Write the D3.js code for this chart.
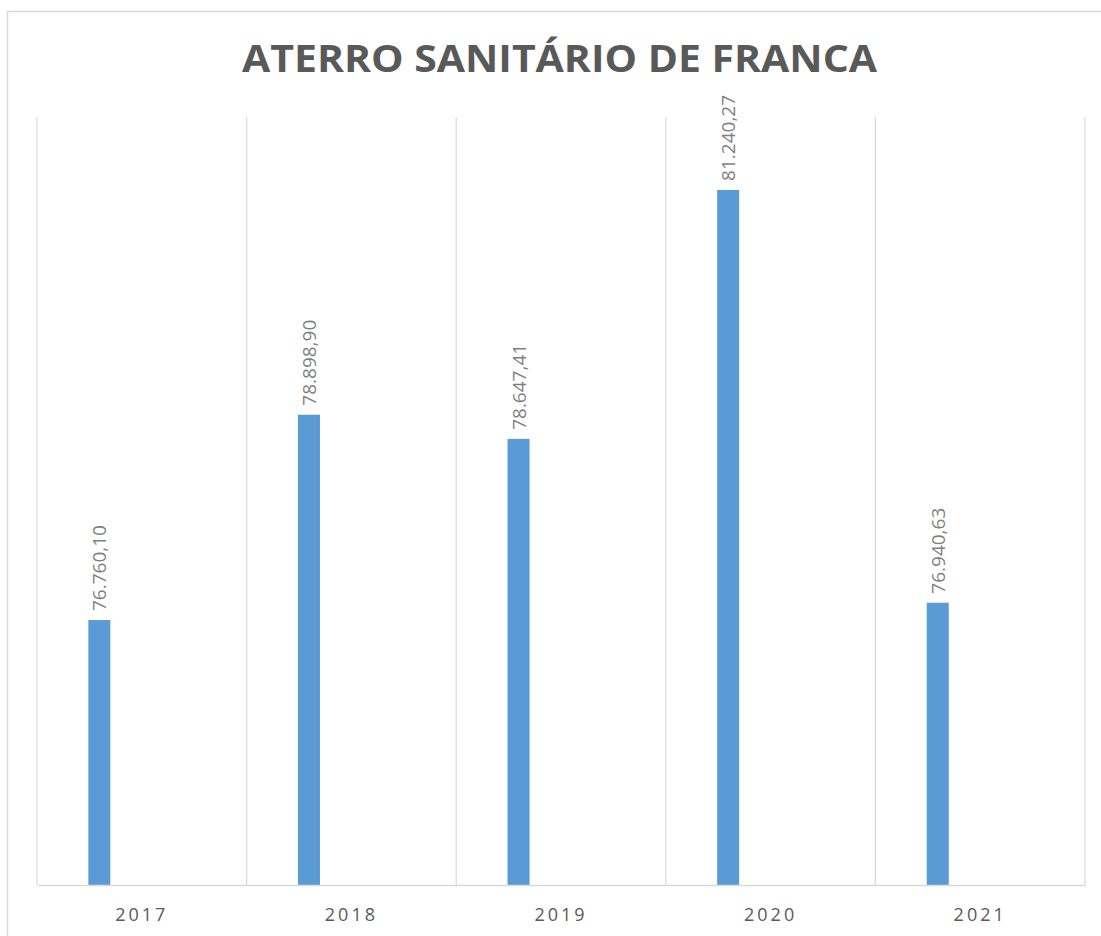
<!DOCTYPE html>
<html>
<head>
<meta charset="utf-8">
<script src="https://cdn.jsdelivr.net/npm/d3@7"></script>
<style>
  body { margin: 0; background: #fff; }
  svg { display: block; }
</style>
</head>
<body>
<svg id="chart" width="1101" height="936"></svg>
<script>
// chart data
var years = ['2017', '2018', '2019', '2020', '2021'];
var tonnes = [76760.10, 78898.90, 78647.41, 81240.27, 76940.63];
var labels = ['76.760,10', '78.898,90', '78.647,41', '81.240,27', '76.940,63'];
var yDomain = [74000, 82000];
var title = 'ATERRO SANITÁRIO DE FRANCA';

var svg = d3.select('#chart');
var plot = {left: 37, right: 1085, top: 117, bottom: 885};

// outer chart border
svg.append('rect')
    .attr('x', 7.5).attr('y', 11.5)
    .attr('width', 1110).attr('height', 940)
    .attr('fill', 'none')
    .attr('stroke', '#d9d9d9')
    .attr('stroke-width', 1.5);

var x = d3.scaleBand().domain(years).range([plot.left, plot.right]);
var y = d3.scaleLinear().domain(yDomain).range([plot.bottom, plot.top]);

// vertical gridlines at category boundaries
var bounds = years.map(d => x(d)).concat([plot.right]);
svg.append('g').selectAll('line')
    .data(bounds)
    .enter().append('line')
    .attr('x1', d => d).attr('x2', d => d)
    .attr('y1', plot.top).attr('y2', plot.bottom)
    .attr('stroke', '#d9d9d9')
    .attr('stroke-width', 1.2);

// bars (sit left of the band centre, like the first series of a cluster)
var bw = x.bandwidth();
svg.append('g').selectAll('rect')
    .data(years)
    .enter().append('rect')
    .attr('x', d => x(d) + bw * 0.245)
    .attr('width', bw * 0.105)
    .attr('y', (d, i) => y(tonnes[i]))
    .attr('height', (d, i) => plot.bottom - y(tonnes[i]))
    .attr('fill', '#5b9bd5');

// value labels, rotated
svg.append('g').selectAll('text')
    .data(years)
    .enter().append('text')
    .attr('transform', (d, i) => 'translate(' + (x(d) + bw * 0.2975 + 7) + ',' + (y(tonnes[i]) - 9) + ') rotate(-90)')
    .attr('font-family', 'Open Sans, sans-serif')
    .attr('font-size', 19)
    .attr('fill', '#7f7f7f')
    .text((d, i) => labels[i]);

// x axis
var xAxis = svg.append('g')
    .attr('transform', 'translate(0,' + plot.bottom + ')')
    .call(d3.axisBottom(x).tickSize(0).tickPadding(23));
xAxis.select('.domain').attr('stroke', '#d9d9d9').attr('stroke-width', 1.5);
xAxis.selectAll('text')
    .attr('font-family', 'Open Sans, sans-serif')
    .attr('font-size', 18)
    .attr('letter-spacing', 3)
    .attr('fill', '#595959');

// title
svg.append('text')
    .attr('x', 242).attr('y', 72)
    .attr('font-family', 'Open Sans, sans-serif')
    .attr('font-weight', 'bold')
    .attr('font-size', 38)
    .attr('fill', '#595959')
    .attr('textLength', 635)
    .attr('lengthAdjust', 'spacingAndGlyphs')
    .text(title);
</script>
</body>
</html>
